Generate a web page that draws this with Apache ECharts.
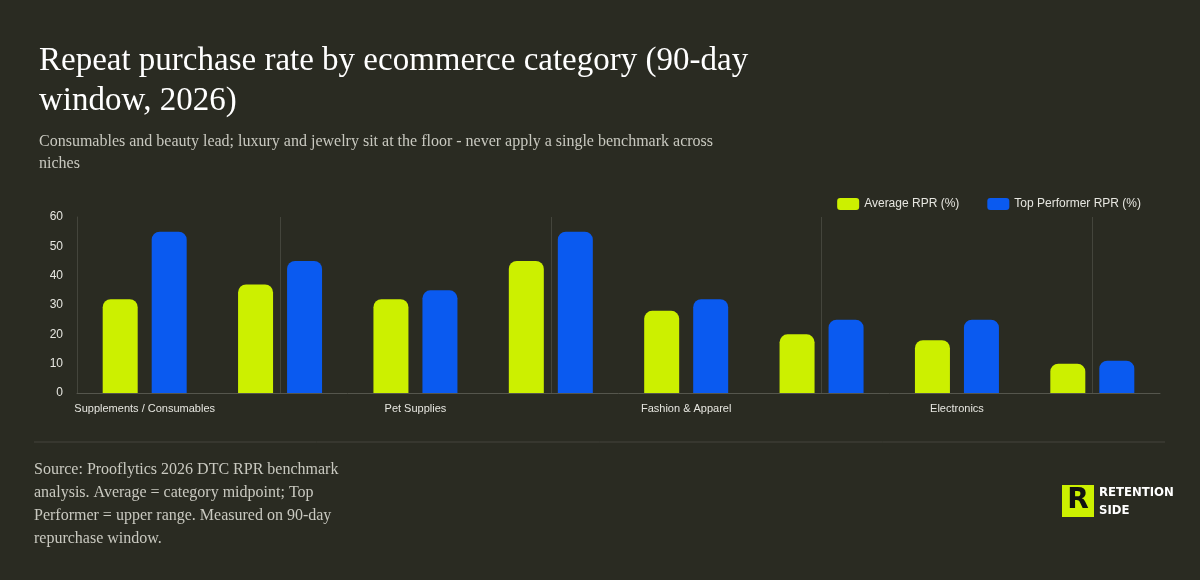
<!DOCTYPE html>
<html><head><meta charset="utf-8">
<script src="https://cdn.jsdelivr.net/npm/echarts@6/dist/echarts.min.js"></script>
<style>html,body{margin:0;background:#2a2b22}#main{width:1200px;height:580px}</style>
</head><body><div id="main"></div>
<script>
var categories = ['Supplements / Consumables', 'Beauty & Skincare', 'Pet Supplies', 'Food & Beverage',
  'Fashion & Apparel', 'Home & Living', 'Electronics', 'Luxury & Jewelry'];
var avgRpr = [32, 37, 32, 45, 28, 20, 18, 10];
var topRpr = [55, 45, 35, 55, 32, 25, 25, 11];
var yTicks = { min: 0, max: 60, interval: 10 };

var dividers = categories.filter(function (c, i) { return i % 2 === 1; })
  .map(function (c) { return { xAxis: c }; });

var chart = echarts.init(document.getElementById('main'));
chart.setOption({
  backgroundColor: '#2a2b22',
  title: {
    text: 'Repeat purchase rate by ecommerce category (90-day\nwindow, 2026)',
    subtext: 'Consumables and beauty lead; luxury and jewelry sit at the floor - never apply a single benchmark across\nniches',
    left: 34, top: 36,
    textStyle: { fontFamily: 'Liberation Serif', fontSize: 33, color: '#ffffff', fontWeight: 'normal', lineHeight: 40 },
    subtextStyle: { fontFamily: 'Liberation Serif', fontSize: 16, color: '#c9c9c0', lineHeight: 22 },
    itemGap: 10
  },
  legend: {
    right: 54, top: 193, itemWidth: 22, itemHeight: 12, itemGap: 28,
    textStyle: { color: '#e6e6e0', fontFamily: 'Liberation Sans', fontSize: 12 },
    data: ['Average RPR (%)', 'Top Performer RPR (%)']
  },
  grid: { left: 77, right: 40, top: 217, bottom: 187 },
  xAxis: {
    type: 'category', data: categories,
    axisLine: { lineStyle: { color: '#55564d' } },
    axisTick: { show: false },
    axisLabel: { interval: 1, color: '#e6e6e0', fontFamily: 'Liberation Sans', fontSize: 11, margin: 10 },
    splitLine: { show: false }
  },
  yAxis: {
    type: 'value', min: yTicks.min, max: yTicks.max, interval: yTicks.interval,
    axisLine: { show: true, lineStyle: { color: '#44453c' } },
    axisLabel: { color: '#e6e6e0', fontFamily: 'Liberation Sans', fontSize: 12, margin: 14 },
    splitLine: { show: false }
  },
  series: [
    { name: 'dividers', type: 'line', data: [], z: 1, silent: true,
      markLine: { silent: true, symbol: 'none', label: { show: false },
        lineStyle: { color: '#44453c', type: 'solid', width: 1 }, data: dividers } },
    { name: 'Average RPR (%)', type: 'bar', data: avgRpr, barWidth: 35, barGap: '40%', z: 3,
      itemStyle: { color: '#ccf000', borderRadius: [8, 8, 0, 0] } },
    { name: 'Top Performer RPR (%)', type: 'bar', data: topRpr, barWidth: 35, z: 3,
      itemStyle: { color: '#0a5af0', borderRadius: [8, 8, 0, 0] } }
  ],
  graphic: [
    { type: 'line', shape: { x1: 34, y1: 442, x2: 1165, y2: 442 }, style: { stroke: '#44453c', lineWidth: 1 } },
    { type: 'text', left: 34, top: 458, style: {
      text: 'Source: Prooflytics 2026 DTC RPR benchmark\nanalysis. Average = category midpoint; Top\nPerformer = upper range. Measured on 90-day\nrepurchase window.',
      fill: '#c9c9c0', font: '16px "Liberation Serif"', lineHeight: 23 } },
    { type: 'rect', shape: { x: 1062, y: 485, width: 32, height: 32 }, style: { fill: '#ccf000' } },
    { type: 'text', x: 1078, y: 501, style: { text: 'R', fill: '#111111', font: 'bold 28px "DejaVu Sans"', align: 'center', verticalAlign: 'middle' } },
    { type: 'text', x: 1099, y: 484, style: { text: 'RETENTION\nSIDE', fill: '#ffffff', font: 'bold 13px "DejaVu Sans Condensed"', lineHeight: 18 } }
  ]
});
</script></body></html>
